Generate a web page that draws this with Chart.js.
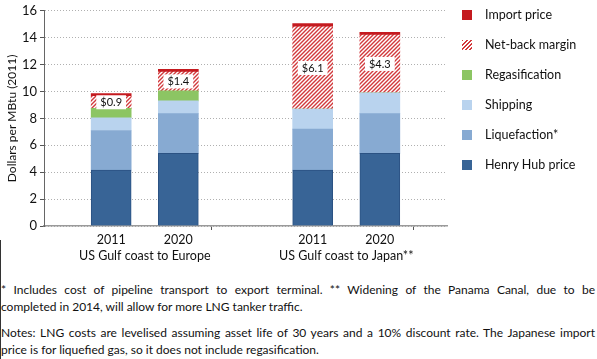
<!DOCTYPE html>
<html>
<head>
<meta charset="utf-8">
<script src="https://cdn.jsdelivr.net/npm/chart.js@4"></script>
<style>
  html, body { margin: 0; padding: 0; background: #fff; }
  body { width: 597px; height: 359px; position: relative; overflow: hidden; font-family: Lato, "Liberation Sans", sans-serif; color: #111; }
  #wrap { position: absolute; left: 0; top: 0; width: 597px; height: 268px; }
  #legend { position: absolute; left: 462px; top: 8px; font-size: 12.5px; }
  .li { position: relative; height: 30px; line-height: 14px; }
  .sw { position: absolute; left: 0; top: 2px; width: 10px; height: 10px; }
  .lt { position: absolute; left: 23px; top: 0; white-space: nowrap; }
  #notes { position: absolute; left: 1px; top: 282px; width: 594px; font-size: 12px; line-height: 16.5px; }
  .j { text-align: justify; text-align-last: justify; }
  .gap { height: 10px; }
  #lb { position: absolute; left: 0; top: 240px; width: 1px; height: 119px; background: #333; }
</style>
</head>
<body>
<div id="wrap"><canvas id="c" width="597" height="268"></canvas></div>
<div id="legend"></div>
<div id="lb"></div>
<div id="notes">
  <div class="j">* Includes cost of pipeline transport to export terminal. ** Widening of the Panama Canal, due to be</div>
  <div>completed in 2014, will allow for more LNG tanker traffic.</div>
  <div class="gap"></div>
  <div class="j">Notes: LNG costs are levelised assuming asset life of 30 years and a 10% discount rate. The Japanese import</div>
  <div>price is for liquefied gas, so it does not include regasification.</div>
</div>
<script>
// ---- data ----
const yearLabels = ["", "2011", "2020", "", "2011", "2020", ""];
const groupLabels = ["US Gulf coast to Europe", "US Gulf coast to Japan**"];
const henryHub     = [null, 4.15, 5.4,  null, 4.15, 5.4,  null];
const liquefaction = [null, 2.95, 2.95, null, 3.05, 2.95, null];
const shipping     = [null, 0.95, 0.95, null, 1.5,  1.55, null];
const regas        = [null, 0.7,  0.75, null, 0,    0,    null];
const netback      = [null, 0.9,  1.4,  null, 6.1,  4.3,  null];
const importPrice  = [null, 0.2,  0.2,  null, 0.25, 0.2,  null];
const yTicks = [0, 2, 4, 6, 8, 10, 12, 14, 16];

// ---- hatch pattern ----
function makeHatch() {
  const t = document.createElement('canvas');
  t.width = 4; t.height = 4;
  const g = t.getContext('2d');
  g.fillStyle = '#ffffff'; g.fillRect(0, 0, 4, 4);
  g.strokeStyle = '#d2393c'; g.lineWidth = 1.4;
  g.beginPath();
  g.moveTo(-1, 5); g.lineTo(5, -1);
  g.moveTo(-1, 1); g.lineTo(1, -1);
  g.moveTo(3, 5); g.lineTo(5, 3);
  g.stroke();
  return document.getElementById('c').getContext('2d').createPattern(t, 'repeat');
}
const hatch = makeHatch();

const colors = {
  hh: '#386496', liq: '#87aad2', ship: '#b9d3ee', regas: '#8cc563', imp: '#c41a1f'
};

const datasets = [
  { label: 'Henry Hub price', data: henryHub, backgroundColor: colors.hh, borderColor: '#2b5283', borderWidth: 1 },
  { label: 'Liquefaction*', data: liquefaction, backgroundColor: colors.liq },
  { label: 'Shipping', data: shipping, backgroundColor: colors.ship },
  { label: 'Regasification', data: regas, backgroundColor: colors.regas },
  { label: 'Net-back margin', data: netback, backgroundColor: hatch },
  { label: 'Import price', data: importPrice, backgroundColor: colors.imp }
];

// ---- legend (HTML) ----
const legendEl = document.getElementById('legend');
[...datasets].reverse().forEach(d => {
  const li = document.createElement('div'); li.className = 'li';
  const sw = document.createElement('div'); sw.className = 'sw';
  if (d.label === 'Net-back margin') {
    sw.style.background = 'repeating-linear-gradient(135deg, #d2393c 0 1.3px, #fff 1.3px 3px)';
  } else sw.style.background = d.backgroundColor;
  const lt = document.createElement('div'); lt.className = 'lt'; lt.textContent = d.label;
  li.appendChild(sw); li.appendChild(lt); legendEl.appendChild(li);
});

// ---- plugins ----
const labelPlugin = {
  id: 'nbLabels',
  afterDatasetsDraw(chart) {
    const ctx = chart.ctx;
    const meta = chart.getDatasetMeta(4);
    ctx.save();
    ctx.font = '11px Lato, "Liberation Sans", sans-serif';
    ctx.textAlign = 'center'; ctx.textBaseline = 'middle';
    meta.data.forEach((el, i) => {
      const v = netback[i];
      if (v == null) return;
      const p = el.getProps(['x', 'y', 'base'], true);
      const cy = (p.y + p.base) / 2;
      const txt = '$' + v.toFixed(1);
      const w = ctx.measureText(txt).width + 8;
      ctx.fillStyle = '#fff';
      ctx.fillRect(p.x - w / 2, cy - 7, w, 14);
      ctx.fillStyle = '#111';
      ctx.fillText(txt, p.x, cy + 0.5);
    });
    ctx.restore();
  },
  afterDraw(chart) {
    const ctx = chart.ctx;
    const xs = chart.scales.x;
    ctx.save();
    ctx.font = '12.5px Lato, "Liberation Sans", sans-serif';
    ctx.fillStyle = '#111'; ctx.textAlign = 'center'; ctx.textBaseline = 'middle';
    groupLabels.forEach((g, k) => {
      const a = xs.getPixelForValue(k * 3), b = xs.getPixelForValue(k * 3 + 3);
      ctx.fillText(g, (a + b) / 2, 256);
    });
    ctx.restore();
  }
};

new Chart(document.getElementById('c'), {
  type: 'bar',
  data: { labels: yearLabels, datasets },
  options: {
    responsive: false,
    animation: false,
    layout: { padding: { top: 10, right: 150, bottom: 0, left: 0 } },
    plugins: { legend: { display: false }, tooltip: { enabled: false } },
    datasets: { bar: { barThickness: 40 } },
    scales: {
      x: {
        stacked: true,
        offset: false,
        afterFit: s => { s.height = 42; },
        grid: {
          drawOnChartArea: false, drawTicks: true, tickLength: 4,
          color: ctx => (ctx.index % 3 === 0 ? '#555' : 'rgba(0,0,0,0)')
        },
        border: { display: true, color: '#9a9a9a', width: 1.5 },
        ticks: { color: '#111', font: { size: 12.5, family: 'Lato' }, padding: 2, maxRotation: 0, autoSkip: false }
      },
      y: {
        stacked: true,
        min: 0, max: 16,
        afterFit: s => { s.width = 44; },
        afterBuildTicks: s => { s.ticks = yTicks.map(v => ({ value: v })); },
        grid: { color: '#b0b0b0', tickColor: '#555', tickLength: 4, lineWidth: 1 },
        border: { display: true, color: '#666', width: 1, dash: [1, 2] },
        ticks: { color: '#111', font: { size: 13, family: 'Lato' }, padding: 3 },
        title: { display: true, text: 'Dollars per MBtu (2011)', color: '#111', font: { size: 12, family: 'Lato' }, padding: { top: 5, bottom: 0 } }
      }
    }
  },
  plugins: [labelPlugin]
});
</script>
</body>
</html>
